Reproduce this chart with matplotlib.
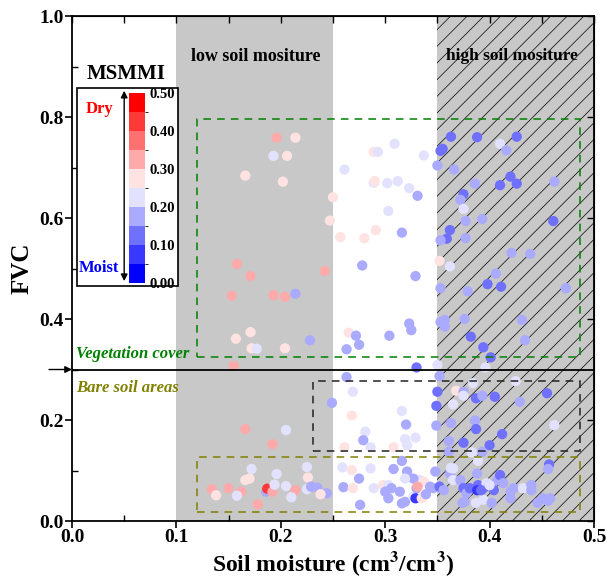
import matplotlib
matplotlib.use("Agg")
import matplotlib.pyplot as plt
import numpy as np
from matplotlib.colors import ListedColormap, BoundaryNorm
from matplotlib.patches import Rectangle
from matplotlib.ticker import MultipleLocator
import matplotlib.colorbar as mcolorbar

plt.rcParams['font.family'] = 'Liberation Serif'
plt.rcParams['font.weight'] = 'bold'
plt.rcParams['mathtext.fontset'] = 'stix'
plt.rcParams['hatch.linewidth'] = 0.5

# soil moisture (cm3/cm3), FVC, MSMMI for every station
sm = [0.196, 0.214, 0.193, 0.206, 0.166, 0.202, 0.261, 0.250, 0.247, 0.257,
      0.158, 0.171, 0.242, 0.153, 0.193, 0.204, 0.214, 0.157, 0.171, 0.172,
      0.177, 0.204, 0.228, 0.155,
      0.363, 0.388, 0.426, 0.410, 0.416, 0.355, 0.353, 0.309, 0.289, 0.293,
      0.337, 0.350, 0.366, 0.420, 0.426, 0.410, 0.386, 0.462, 0.289, 0.290,
      0.302, 0.312, 0.323, 0.331, 0.375, 0.372, 0.375, 0.377, 0.393, 0.461,
      0.303, 0.362, 0.359, 0.353, 0.377, 0.316, 0.291, 0.280, 0.421, 0.439,
      0.352, 0.362, 0.278, 0.329, 0.406, 0.398, 0.411, 0.353, 0.379, 0.473,
      0.357, 0.353, 0.357, 0.376, 0.431, 0.323, 0.325, 0.265, 0.272, 0.304,
      0.382, 0.434, 0.275, 0.263, 0.394, 0.401, 0.330, 0.350, 0.396,
      0.166, 0.205, 0.192, 0.249, 0.172, 0.196, 0.225, 0.166, 0.170, 0.226,
      0.134, 0.138, 0.150, 0.162, 0.158, 0.186, 0.187, 0.192, 0.194, 0.205,
      0.214, 0.210, 0.178, 0.225, 0.229, 0.235, 0.244, 0.238, 0.259, 0.260,
      0.263,
      0.352, 0.350, 0.368, 0.375, 0.375, 0.384, 0.387, 0.393, 0.405, 0.425,
      0.429, 0.455, 0.269, 0.349, 0.365, 0.316, 0.268, 0.349, 0.363, 0.386,
      0.387, 0.412, 0.462, 0.320, 0.281, 0.279, 0.319, 0.329, 0.286, 0.261,
      0.308, 0.321, 0.361, 0.375, 0.400, 0.361, 0.383, 0.393, 0.389, 0.316,
      0.457, 0.456, 0.286, 0.308, 0.268, 0.275, 0.269, 0.276, 0.289, 0.298,
      0.303,
      0.300, 0.306, 0.303, 0.314, 0.316, 0.319, 0.327, 0.330, 0.333, 0.337,
      0.343, 0.346, 0.352, 0.356, 0.348, 0.362, 0.365, 0.372, 0.375, 0.378,
      0.381, 0.388, 0.389, 0.394, 0.397, 0.400, 0.404, 0.407, 0.410, 0.413,
      0.420, 0.420, 0.423, 0.432, 0.440, 0.440, 0.451, 0.458, 0.363, 0.365,
      0.376, 0.394, 0.327, 0.321, 0.319, 0.331, 0.329, 0.335, 0.388, 0.392,
      0.400, 0.446, 0.456, 0.402, 0.374, 0.387, 0.339]

fvc = [0.759, 0.759, 0.723, 0.723, 0.684, 0.672, 0.696, 0.641, 0.595, 0.562,
       0.509, 0.485, 0.495, 0.446, 0.447, 0.444, 0.450, 0.361, 0.374, 0.342,
       0.341, 0.342, 0.358, 0.307,
       0.761, 0.760, 0.761, 0.747, 0.734, 0.737, 0.733, 0.747, 0.731, 0.731,
       0.724, 0.704, 0.696, 0.682, 0.668, 0.665, 0.668, 0.672, 0.670, 0.673,
       0.669, 0.673, 0.659, 0.644, 0.647, 0.636, 0.618, 0.594, 0.598, 0.594,
       0.614, 0.576, 0.559, 0.556, 0.560, 0.571, 0.576, 0.560, 0.531, 0.529,
       0.515, 0.504, 0.506, 0.485, 0.490, 0.469, 0.464, 0.461, 0.455, 0.461,
       0.398, 0.394, 0.385, 0.400, 0.398, 0.391, 0.378, 0.373, 0.367, 0.367,
       0.365, 0.358, 0.349, 0.340, 0.344, 0.324, 0.304, 0.309, 0.304,
       0.182, 0.180, 0.152, 0.234, 0.103, 0.093, 0.107, 0.081, 0.084, 0.086,
       0.063, 0.051, 0.065, 0.058, 0.050, 0.058, 0.064, 0.058, 0.072, 0.069,
       0.061, 0.047, 0.033, 0.063, 0.068, 0.066, 0.055, 0.053, 0.106, 0.067,
       0.285,
       0.287, 0.256, 0.258, 0.256, 0.248, 0.273, 0.243, 0.248, 0.246, 0.277,
       0.236, 0.253, 0.256, 0.228, 0.231, 0.218, 0.209, 0.189, 0.194, 0.199,
       0.182, 0.172, 0.190, 0.191, 0.177, 0.160, 0.162, 0.165, 0.146, 0.146,
       0.146, 0.150, 0.158, 0.155, 0.150, 0.137, 0.136, 0.137, 0.119, 0.119,
       0.112, 0.103, 0.104, 0.103, 0.101, 0.084, 0.065, 0.032, 0.065, 0.071,
       0.071,
       0.058, 0.065, 0.045, 0.058, 0.035, 0.038, 0.048, 0.065, 0.081, 0.078,
       0.068, 0.065, 0.068, 0.061, 0.098, 0.094, 0.081, 0.081, 0.065, 0.055,
       0.065, 0.094, 0.071, 0.065, 0.075, 0.071, 0.061, 0.081, 0.091, 0.075,
       0.058, 0.045, 0.065, 0.065, 0.061, 0.071, 0.045, 0.045, 0.105, 0.104,
       0.038, 0.042, 0.084, 0.098, 0.084, 0.068, 0.045, 0.045, 0.061, 0.061,
       0.071, 0.036, 0.040, 0.036, 0.036, 0.036, 0.053]

msmmi = [0.32, 0.27, 0.22, 0.27, 0.27, 0.27, 0.22, 0.27, 0.27, 0.27,
         0.32, 0.32, 0.32, 0.32, 0.32, 0.32, 0.17, 0.27, 0.27, 0.27,
         0.22, 0.27, 0.17, 0.32,
         0.12, 0.12, 0.12, 0.22, 0.17, 0.12, 0.12, 0.22, 0.27, 0.22,
         0.22, 0.17, 0.17, 0.12, 0.12, 0.12, 0.17, 0.17, 0.22, 0.27,
         0.22, 0.22, 0.22, 0.17, 0.12, 0.17, 0.22, 0.17, 0.17, 0.12,
         0.22, 0.12, 0.12, 0.17, 0.17, 0.17, 0.27, 0.27, 0.17, 0.17,
         0.27, 0.22, 0.17, 0.17, 0.17, 0.12, 0.12, 0.17, 0.17, 0.17,
         0.17, 0.17, 0.17, 0.17, 0.17, 0.17, 0.17, 0.27, 0.17, 0.17,
         0.12, 0.17, 0.17, 0.17, 0.12, 0.12, 0.12, 0.22, 0.22,
         0.32, 0.22, 0.32, 0.17, 0.22, 0.22, 0.22, 0.27, 0.27, 0.27,
         0.32, 0.27, 0.32, 0.32, 0.22, 0.17, 0.42, 0.32, 0.22, 0.22,
         0.32, 0.22, 0.32, 0.22, 0.17, 0.17, 0.17, 0.27, 0.22, 0.17,
         0.17,
         0.17, 0.12, 0.27, 0.17, 0.22, 0.22, 0.12, 0.17, 0.12, 0.22,
         0.17, 0.12, 0.22, 0.12, 0.22, 0.22, 0.27, 0.17, 0.17, 0.17,
         0.12, 0.12, 0.22, 0.17, 0.22, 0.17, 0.22, 0.22, 0.22, 0.27,
         0.27, 0.22, 0.17, 0.12, 0.12, 0.17, 0.22, 0.17, 0.22, 0.17,
         0.12, 0.17, 0.22, 0.17, 0.27, 0.17, 0.27, 0.17, 0.22, 0.27,
         0.22,
         0.17, 0.17, 0.17, 0.17, 0.17, 0.17, 0.22, 0.17, 0.22, 0.27,
         0.17, 0.17, 0.12, 0.17, 0.17, 0.17, 0.22, 0.17, 0.12, 0.17,
         0.12, 0.17, 0.12, 0.12, 0.22, 0.17, 0.12, 0.17, 0.12, 0.17,
         0.17, 0.17, 0.17, 0.22, 0.17, 0.17, 0.17, 0.17, 0.22, 0.22,
         0.17, 0.22, 0.17, 0.17, 0.22, 0.32, 0.07, 0.27, 0.07, 0.12,
         0.22, 0.17, 0.17, 0.17, 0.17, 0.22, 0.17]

levels = np.arange(0, 0.501, 0.05)
cmap = ListedColormap(plt.cm.bwr(np.linspace(0, 1, 10)))
norm = BoundaryNorm(levels, cmap.N)

fig = plt.figure(figsize=(6.07, 5.82), dpi=100)
ax = fig.add_axes([0.1186, 0.1048, 0.86, 0.8677])

# moisture zones
ax.axvspan(0.1, 0.25, color='#c8c8c8', lw=0, zorder=0)
ax.axvspan(0.35, 0.5, facecolor='#c8c8c8', edgecolor='black', hatch='//', lw=0, zorder=0)

ax.scatter(sm, fvc, c=msmmi, cmap=cmap, norm=norm, s=55, linewidths=0, zorder=3)

# dashed boxes around the groups
ax.add_patch(Rectangle((0.12, 0.325), 0.367, 0.471, fill=False, ec='#008000',
                       ls=(0, (5, 4)), lw=1.1, zorder=4))
ax.add_patch(Rectangle((0.231, 0.139), 0.256, 0.138, fill=False, ec='#222222',
                       ls=(0, (5, 4)), lw=1.1, zorder=4))
ax.add_patch(Rectangle((0.12, 0.018), 0.367, 0.109, fill=False, ec='#808000',
                       ls=(0, (5, 4)), lw=1.1, zorder=4))

ax.axhline(0.3, color='black', lw=1.3, zorder=4)
ax.annotate('', xy=(0.0, 0.3), xytext=(-0.022, 0.3), xycoords='data',
            arrowprops=dict(arrowstyle='-|>', color='black', lw=1.0, shrinkA=0, shrinkB=0),
            annotation_clip=False)

ax.text(0.176, 0.92, 'low soil mositure', ha='center', va='center', fontsize=13, fontweight='bold')
ax.text(0.421, 0.92, 'high soil mositure', ha='center', va='center', fontsize=12.5, fontweight='bold')
ax.text(0.004, 0.331, 'Vegetation cover', color='#008000', fontsize=12,
        fontweight='bold', style='italic', ha='left', va='center')
ax.text(0.004, 0.263, 'Bare soil areas', color='#808000', fontsize=12,
        fontweight='bold', style='italic', ha='left', va='center')

ax.set_xlim(0, 0.5)
ax.set_ylim(0, 1.0)
ax.xaxis.set_major_locator(MultipleLocator(0.1))
ax.xaxis.set_minor_locator(MultipleLocator(0.05))
ax.yaxis.set_major_locator(MultipleLocator(0.2))
ax.yaxis.set_minor_locator(MultipleLocator(0.1))
ax.xaxis.set_major_formatter(matplotlib.ticker.FormatStrFormatter('%.1f'))
ax.yaxis.set_major_formatter(matplotlib.ticker.FormatStrFormatter('%.1f'))
ax.tick_params(which='major', direction='out', length=5, width=1.2, labelsize=14, pad=1)
ax.tick_params(which='minor', direction='in', length=4, width=1.0)
for s in ax.spines.values():
    s.set_linewidth(1.3)

top = ax.secondary_xaxis('top')
top.xaxis.set_major_locator(MultipleLocator(0.05))
top.tick_params(direction='in', length=5, width=1.0, labeltop=False)
right = ax.secondary_yaxis('right')
right.yaxis.set_major_locator(MultipleLocator(0.2))
right.tick_params(direction='in', length=5, width=1.0, labelright=False)

ax.set_xlabel('Soil moisture (cm$^{\\mathbf{3}}$/cm$^{\\mathbf{3}}$)', fontsize=17, fontweight='bold', labelpad=2)
ax.set_ylabel('FVC', fontsize=18, fontweight='bold', labelpad=4)

# colour bar legend box
ax.add_patch(Rectangle((0.0096, 0.465), 0.1934, 0.392, transform=ax.transAxes,
                       facecolor='white', edgecolor='black', lw=1.2, zorder=6))
ax.text(0.103, 0.885, 'MSMMI', transform=ax.transAxes, ha='center', va='center',
        fontsize=15, fontweight='bold', zorder=7)
ax.text(0.053, 0.816, 'Dry', transform=ax.transAxes, color='red', ha='center', va='center',
        fontsize=12, fontweight='bold', zorder=7)
ax.text(0.051, 0.501, 'Moist', transform=ax.transAxes, color='blue', ha='center', va='center',
        fontsize=12, fontweight='bold', zorder=7)
ax.annotate('', xy=(0.1, 0.852), xytext=(0.1, 0.475), xycoords='axes fraction',
            arrowprops=dict(arrowstyle='<|-|>', color='black', lw=1.0,
                            mutation_scale=10, shrinkA=0, shrinkB=0), zorder=7)

cax = fig.add_axes([0.2125, 0.5137, 0.0264, 0.3265])
cb = mcolorbar.ColorbarBase(cax, cmap=cmap, norm=norm, boundaries=levels,
                            ticks=np.arange(0, 0.51, 0.1), orientation='vertical')
cb.outline.set_visible(False)
cb.ax.yaxis.set_major_formatter(matplotlib.ticker.FormatStrFormatter('%.2f'))
cb.ax.tick_params(length=0, labelsize=10.5, pad=3)

fig.savefig('out.png', dpi=100)
